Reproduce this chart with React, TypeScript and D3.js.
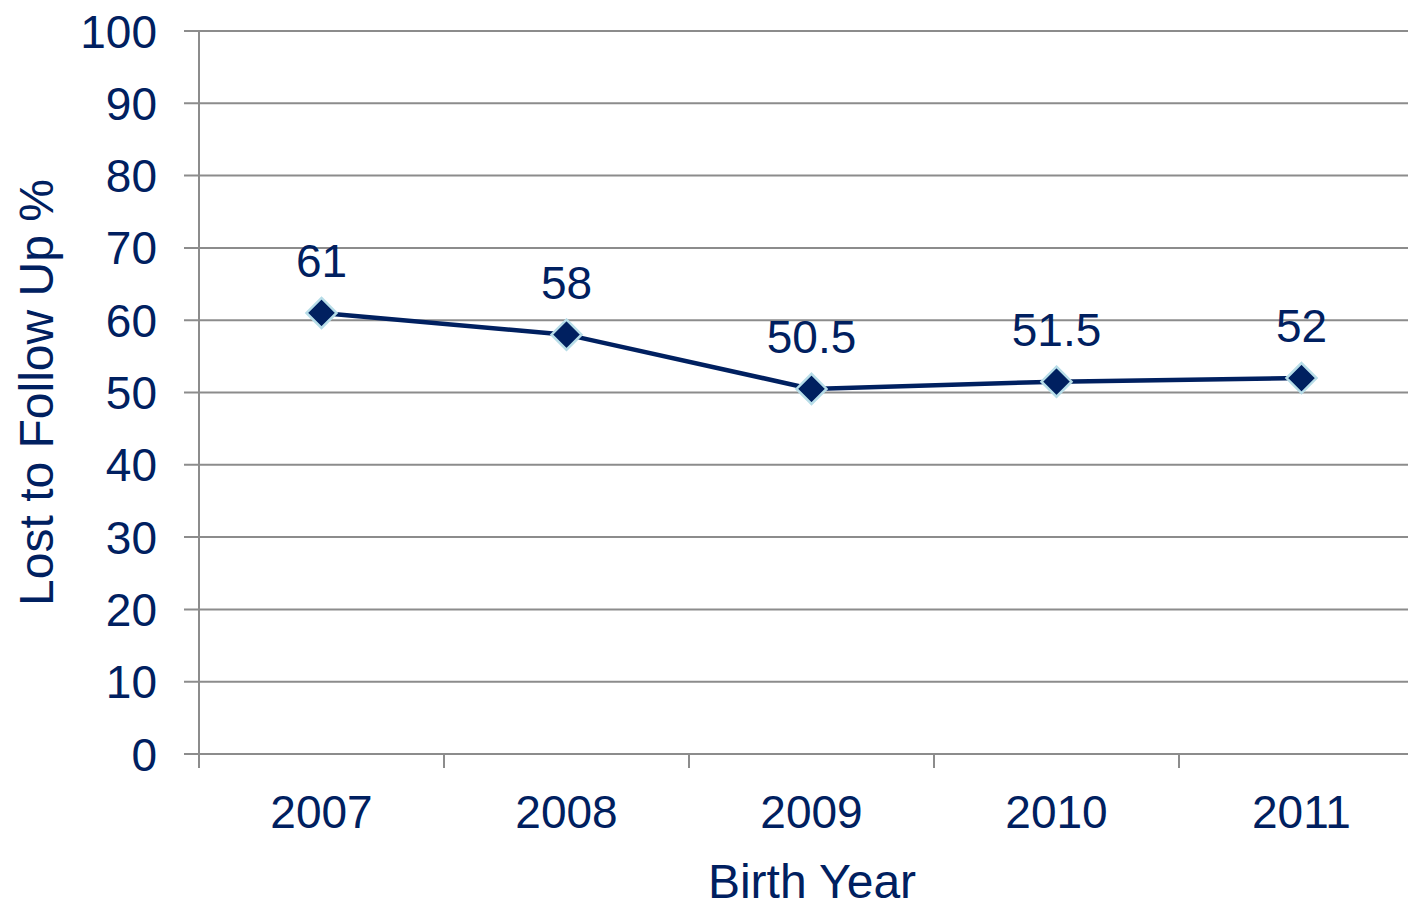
import React, { useEffect } from "react";
import * as d3 from "d3";

const years = ["2007", "2008", "2009", "2010", "2011"];
const lostPct = [61, 58, 50.5, 51.5, 52];
const yTicks = [0, 10, 20, 30, 40, 50, 60, 70, 80, 90, 100];

const NAVY = "#002060";
const GRID = "#8c8c8c";
const FONT = "'Liberation Sans', Arial, sans-serif";

const App = () => {
  useEffect(() => {
    document.body.style.margin = "0";
  }, []);

  const width = 1408;
  const height = 908;
  const margin = { left: 199, top: 31, bottom: 154 };
  const plotRight = 1424;

  const x = d3.scaleBand().domain(years).range([margin.left, plotRight]);
  const y = d3
    .scaleLinear()
    .domain([0, 100])
    .range([height - margin.bottom, margin.top]);

  const pts = years.map((yr, i) => ({ yr, v: lostPct[i] }));
  const line = d3
    .line<{ yr: string; v: number }>()
    .x((d) => (x(d.yr) as number) + x.bandwidth() / 2)
    .y((d) => y(d.v));

  const bandEdges = years.map((yr) => x(yr) as number);

  return (
    <svg width={width} height={height} style={{ display: "block" }} fontFamily={FONT}>
      {/* gridlines + y ticks */}
      {yTicks.map((t) => (
        <g key={t}>
          <line x1={184} x2={width} y1={y(t)} y2={y(t)} stroke={GRID} strokeWidth={2} />
          <text
            x={157}
            y={y(t)}
            dy="0.36em"
            textAnchor="end"
            fontSize={46}
            fill={NAVY}
          >
            {t}
          </text>
        </g>
      ))}
      {/* y axis line */}
      <line x1={margin.left} x2={margin.left} y1={y(100)} y2={y(0) + 14} stroke={GRID} strokeWidth={2} />
      {/* x ticks */}
      {bandEdges.map((bx) => (
        <line key={bx} x1={bx} x2={bx} y1={y(0)} y2={y(0) + 14} stroke={GRID} strokeWidth={2} />
      ))}
      {/* x labels */}
      {years.map((yr) => (
        <text
          key={yr}
          x={(x(yr) as number) + x.bandwidth() / 2}
          y={828}
          textAnchor="middle"
          fontSize={46}
          fill={NAVY}
        >
          {yr}
        </text>
      ))}
      {/* line */}
      <path d={line(pts) || ""} fill="none" stroke={NAVY} strokeWidth={4.5} />
      {/* markers */}
      {pts.map((d) => {
        const cx = (x(d.yr) as number) + x.bandwidth() / 2;
        const cy = y(d.v);
        const r = 15;
        return (
          <g key={d.yr}>
            <path
              d={`M${cx},${cy - r}L${cx + r},${cy}L${cx},${cy + r}L${cx - r},${cy}Z`}
              fill={NAVY}
              stroke="#b7dde8"
              strokeWidth={2.5}
            />
            <text x={cx} y={cy - 36} textAnchor="middle" fontSize={46} fill={NAVY}>
              {d.v}
            </text>
          </g>
        );
      })}
      {/* axis titles */}
      <text x={812} y={898} textAnchor="middle" fontSize={48} fill={NAVY}>
        Birth Year
      </text>
      <text
        transform={`translate(53, ${(y(0) + y(100)) / 2}) rotate(-90)`}
        textAnchor="middle"
        fontSize={48}
        fill={NAVY}
      >
        Lost to Follow Up %
      </text>
    </svg>
  );
};

export default App;
